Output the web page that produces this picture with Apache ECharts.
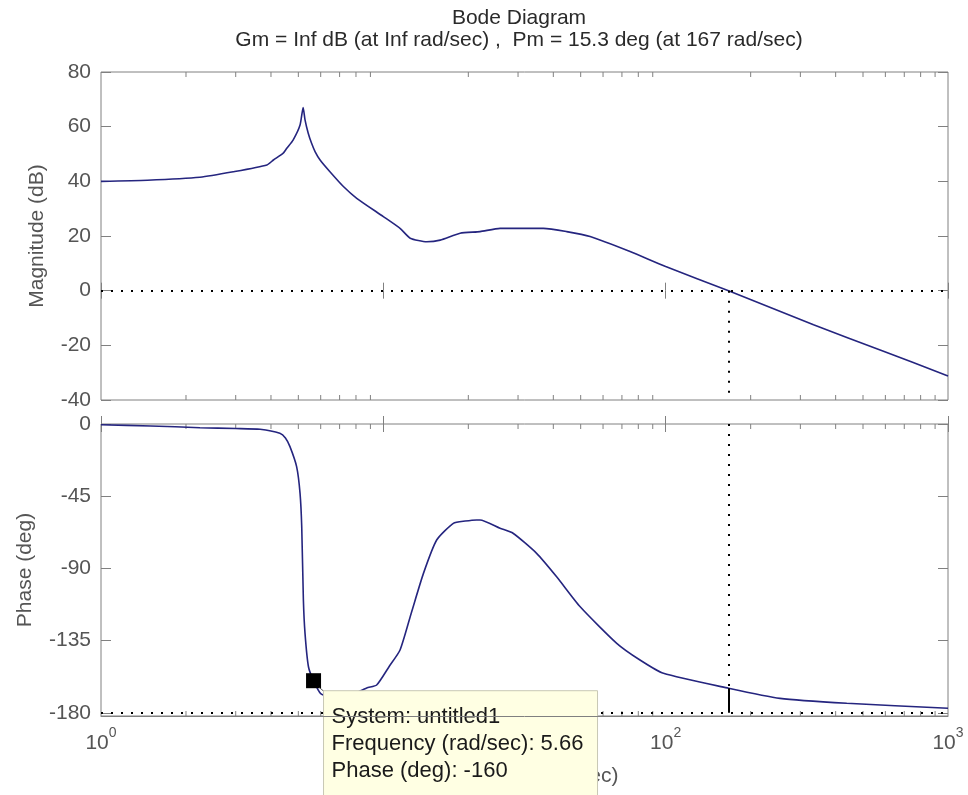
<!DOCTYPE html>
<html>
<head>
<meta charset="utf-8">
<script src="https://cdn.jsdelivr.net/npm/echarts@6/dist/echarts.min.js"></script>
<style>
html, body { margin: 0; padding: 0; background: #fff; }
#bode { width: 968px; height: 795px; }
</style>
</head>
<body>
<div id="bode"></div>
<script>
// values
var magFreq = [1, 1.46, 2.24, 2.94, 3.87, 4.08, 4.42, 4.55, 4.79, 5.07, 5.2, 5.28, 5.42, 5.57, 5.73, 5.97, 6.47, 7.22, 8.05, 10, 11.46, 12.45, 14.25, 15.9, 18.7, 22, 25.9, 36.9, 44.6, 54, 74.8, 100, 167, 334, 575, 1000];
var magDb = [40, 40.4, 41.5, 43.5, 46, 47.8, 50.3, 52.1, 55.1, 60.6, 67, 62.5, 57.6, 53.9, 50.9, 47.8, 43.5, 38.1, 33.8, 27.1, 22.8, 19.2, 17.9, 18.5, 21, 21.6, 22.8, 22.8, 21.6, 19.8, 14.3, 8.8, 0, -12.5, -21.7, -31.2];

var phaseFreq = [1, 1.5, 2.24, 3, 3.66, 4.3, 4.5, 4.67, 4.93, 5.07, 5.14, 5.21, 5.28, 5.43, 5.66, 6, 6.8, 7.7, 8.73, 9.47, 10.5, 11.46, 12.6, 13.87, 15.45, 17.7, 19.5, 21.4, 22, 25.9, 28.8, 34.9, 41.1, 49.8, 67.1, 81.1, 98.2, 167, 254, 438, 1000];
var phaseDeg = [-0.5, -1.2, -2.3, -2.8, -3.3, -5.8, -8.7, -14.1, -26.6, -43.2, -64, -109.7, -130.5, -151.3, -160, -168, -171, -169, -164.5, -162.7, -151, -140.9, -117, -93.1, -72.3, -61.9, -60.5, -59.8, -59.8, -65, -68.1, -80.6, -95.2, -113.9, -136.7, -147.1, -155.4, -164.7, -171, -174.1, -177.2];

var magTicks = [-40, -20, 0, 20, 40, 60, 80];
var phaseTicks = [-180, -135, -90, -45, 0];
var minorFreq = [2, 3, 4, 5, 6, 7, 8, 9, 20, 30, 40, 50, 60, 70, 80, 90, 200, 300, 400, 500, 600, 700, 800, 900];

var crossFreq = 167;     // Pm crossover, rad/sec
var crossPhase = -164.7; // phase there
var tipFreq = 5.66;
var tipPhase = -160;
var tipLines = ['System: untitled1', 'Frequency (rad/sec): 5.66', 'Phase (deg): -160'];

var FONT = 'Liberation Sans, Arial, sans-serif';
var GRAY = '#808080';
var TXT = '#555555';
var BLUE = '#25257f';

function zip(a, b) {
    return a.map(function (v, i) { return [v, b[i]]; });
}

var myChart = echarts.init(document.getElementById('bode'));

function logAxis(grid, pos, extra) {
    var ax = {
        type: 'log',
        logBase: 10,
        min: 1,
        max: 1000,
        gridIndex: grid,
        position: pos,
        axisLine: { show: false },
        axisTick: { inside: true, length: 8, lineStyle: { color: GRAY } },
        axisLabel: { show: false },
        splitLine: { show: false }
    };
    return Object.assign(ax, extra || {});
}

function valAxis(grid, pos, min, max, ticks, showLabel, extra) {
    var ax = {
        type: 'value',
        gridIndex: grid,
        position: pos,
        min: min,
        max: max,
        axisLine: { show: false },
        axisTick: { inside: true, length: 10, lineStyle: { color: GRAY }, customValues: ticks },
        axisLabel: { show: showLabel, customValues: ticks, margin: 10, color: TXT, fontSize: 21, fontFamily: FONT },
        splitLine: { show: false }
    };
    return Object.assign(ax, extra || {});
}

// minor log ticks on top and bottom edge of a panel
function minorTicks(xi, yi, lo, hi) {
    return {
        type: 'custom',
        xAxisIndex: xi,
        yAxisIndex: yi,
        clip: false,
        silent: true,
        z: 1,
        data: minorFreq.map(function (f) { return [f, lo]; }),
        renderItem: function (params, api) {
            var f = api.value(0);
            var b = api.coord([f, lo]);
            var t = api.coord([f, hi]);
            var st = { stroke: GRAY, lineWidth: 1 };
            return {
                type: 'group',
                children: [
                    { type: 'line', shape: { x1: b[0], y1: b[1], x2: b[0], y2: b[1] - 5 }, style: st },
                    { type: 'line', shape: { x1: t[0], y1: t[1], x2: t[0], y2: t[1] + 5 }, style: st }
                ]
            };
        }
    };
}

var dotted = { color: '#000', width: 2, type: [2, 8] };
var nameStyle = { fontSize: 21, color: TXT, fontFamily: FONT };

var option = {
    backgroundColor: '#fff',
    animation: false,
    title: [
        { text: 'Bode Diagram', left: 519, top: 8, textAlign: 'center', padding: 0,
          textStyle: { fontSize: 21, fontWeight: 'normal', color: '#2a2a2a', fontFamily: FONT } },
        { text: 'Gm = Inf dB (at Inf rad/sec) ,  Pm = 15.3 deg (at 167 rad/sec)', left: 519, top: 30, textAlign: 'center', padding: 0,
          textStyle: { fontSize: 21, fontWeight: 'normal', color: '#2a2a2a', fontFamily: FONT } }
    ],
    grid: [
        { left: 101, top: 72, width: 847, height: 328, show: true, borderColor: GRAY, borderWidth: 1 },
        { left: 101, top: 424, width: 847, height: 292, show: true, borderColor: GRAY, borderWidth: 1 }
    ],
    xAxis: [
        logAxis(0, 'bottom'),
        logAxis(0, 'top'),
        logAxis(1, 'bottom', {
            name: 'Frequency (rad/sec)',
            nameLocation: 'middle',
            nameGap: 50,
            nameTextStyle: nameStyle,
            axisLabel: {
                show: true,
                margin: 10,
                formatter: function (v) {
                    return '{b|10}{e|' + Math.round(Math.log10(v)) + '}';
                },
                rich: {
                    b: { fontSize: 21, color: TXT, fontFamily: FONT, lineHeight: 28, verticalAlign: 'bottom' },
                    e: { fontSize: 14, color: TXT, fontFamily: FONT, verticalAlign: 'top' }
                }
            }
        }),
        logAxis(1, 'top'),
        // frame line drawn above the data tip, as in the picture
        logAxis(1, 'bottom', { z: 10, axisTick: { show: false }, axisLine: { show: true, lineStyle: { color: GRAY, width: 1 } } })
    ],
    yAxis: [
        valAxis(0, 'left', -40, 80, magTicks, true, {
            name: 'Magnitude (dB)',
            nameLocation: 'middle',
            nameGap: 53,
            nameTextStyle: nameStyle
        }),
        valAxis(0, 'right', -40, 80, magTicks, false),
        valAxis(1, 'left', -182, 0, phaseTicks, true, {
            name: 'Phase (deg)',
            nameLocation: 'middle',
            nameGap: 65,
            nameTextStyle: nameStyle
        }),
        valAxis(1, 'right', -182, 0, phaseTicks, false)
    ],
    series: [
        minorTicks(0, 0, -40, 80),
        minorTicks(2, 2, -182, 0),
        {
            name: 'Magnitude',
            type: 'line',
            xAxisIndex: 0,
            yAxisIndex: 0,
            data: zip(magFreq, magDb),
            showSymbol: false,
            smooth: 0.2,
            lineStyle: { color: BLUE, width: 1.6 },
            markLine: {
                silent: true,
                symbol: 'none',
                label: { show: false },
                lineStyle: dotted,
                data: [
                    [{ coord: [1, 0] }, { coord: [1000, 0] }],
                    [{ coord: [crossFreq, 0] }, { coord: [crossFreq, -40] }]
                ]
            }
        },
        {
            name: 'Phase',
            type: 'line',
            xAxisIndex: 2,
            yAxisIndex: 2,
            data: zip(phaseFreq, phaseDeg),
            showSymbol: false,
            smooth: 0.2,
            lineStyle: { color: BLUE, width: 1.6 },
            markLine: {
                silent: true,
                symbol: 'none',
                label: { show: false },
                lineStyle: dotted,
                data: [
                    [{ coord: [1, -180] }, { coord: [1000, -180] }],
                    [{ coord: [crossFreq, 0] }, { coord: [crossFreq, crossPhase] }],
                    [{ coord: [crossFreq, crossPhase] }, { coord: [crossFreq, -180], lineStyle: { type: 'solid', width: 2, color: '#000' } }]
                ]
            }
        },
        {
            name: 'tip',
            type: 'scatter',
            xAxisIndex: 2,
            yAxisIndex: 2,
            data: [[tipFreq, tipPhase]],
            symbol: 'rect',
            symbolSize: 15,
            itemStyle: { color: '#000', opacity: 1 },
            z: 4
        },
        {
            name: 'tipBox',
            type: 'custom',
            xAxisIndex: 2,
            yAxisIndex: 2,
            clip: false,
            silent: true,
            z: 5,
            data: [[tipFreq, tipPhase]],
            renderItem: function (params, api) {
                var p = api.coord([api.value(0), api.value(1)]);
                var x0 = p[0] + 10, y0 = p[1] + 10;
                var kids = [
                    { type: 'line', shape: { x1: p[0] + 6, y1: p[1] + 7, x2: x0 + 2, y2: y0 + 2 }, style: { stroke: '#555', lineWidth: 1 } },
                    { type: 'rect', shape: { x: x0, y: y0, width: 274, height: 120 }, style: { fill: '#ffffe3', stroke: '#c8c8b4', lineWidth: 1 } }
                ];
                tipLines.forEach(function (s, i) {
                    kids.push({
                        type: 'text',
                        x: x0 + 8,
                        y: y0 + 26 + i * 27,
                        style: { text: s, fill: '#1a1a1a', fontSize: 22, fontFamily: FONT, verticalAlign: 'middle', align: 'left' }
                    });
                });
                return { type: 'group', children: kids };
            }
        }
    ]
};

myChart.setOption(option);
</script>
</body>
</html>
